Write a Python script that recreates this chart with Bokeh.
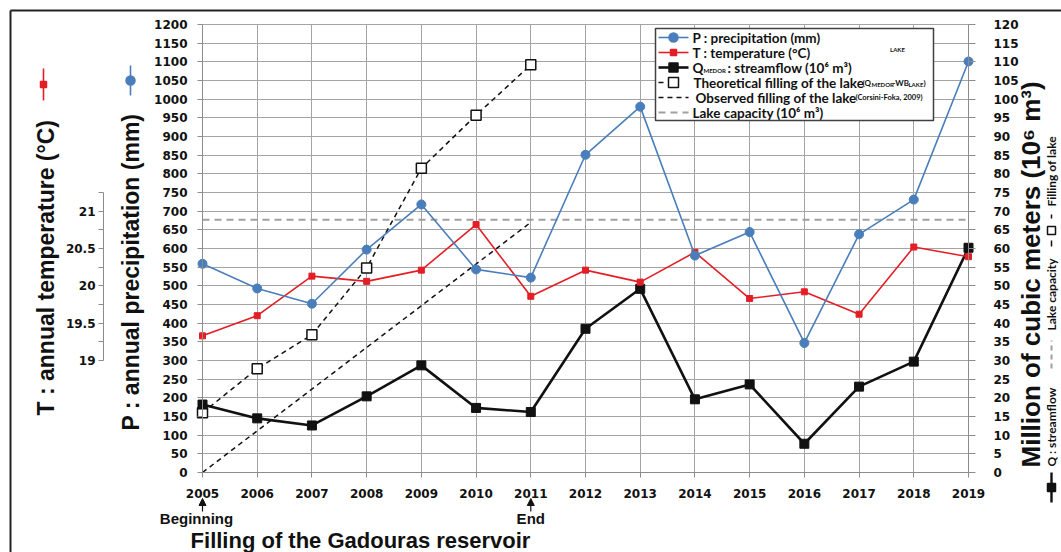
from math import pi

from bokeh.plotting import figure
from bokeh.models import Range1d, LinearAxis, FixedTicker, Grid, Label, Arrow, NormalHead
from bokeh.embed import file_html
from bokeh.resources import INLINE

# ---- data -------------------------------------------------------------
years = list(range(2005, 2020))
precipitation = [559, 493, 452, 597, 718, 544, 522, 851, 980, 581, 644, 347, 638, 731, 1101]   # mm
temperature = [19.33, 19.60, 20.13, 20.06, 20.21, 20.82, 19.86, 20.21, 20.05, 20.45,
               19.83, 19.92, 19.62, 20.52, 20.39]                                             # deg C
streamflow = [18.2, 14.5, 12.6, 20.4, 28.7, 17.3, 16.2, 38.5, 49.2, 19.6,
              23.6, 7.7, 23.0, 29.7, 60.2]                                                     # 10^6 m3
filling_years = [2005, 2006, 2007, 2008, 2009, 2010, 2011]
filling_theoretical = [16.0, 27.8, 36.9, 54.8, 81.5, 95.7, 109.2]                              # 10^6 m3
observed_years = [2005, 2011]
observed_filling = [0, 67]                                                                     # 10^6 m3
capacity_years = [2005, 2019]
lake_capacity = [67.7, 67.7]                                                                   # 10^6 m3

p_ticks = list(range(0, 1201, 50))
q_ticks = list(range(0, 121, 5))
t_ticks = [19, 19.5, 20, 20.5, 21]
t_minor = [19.25, 19.75, 20.25, 20.75, 21.25]

# ---- geometry ---------------------------------------------------------
W, H = 1061, 552
LEFT, RIGHT, TOP, BOTTOM = 202, 968, 24, 472      # pixel box of the axes
PX_PER_YEAR = (RIGHT - LEFT) / (years[-1] - years[0])
P_MAX = p_ticks[-1]
Q_PER_MM = q_ticks[-1] / P_MAX                     # right axis is 1/10 of left axis
T_AT_300, MM_PER_DEG = 19.0, 200.0                 # 19 degC sits on 300 mm, 1 degC = 200 mm


def to_x(px):
    return years[0] + (px - LEFT) / PX_PER_YEAR


def to_y(py):
    return (BOTTOM - py) * P_MAX / (BOTTOM - TOP)


def mm_to_t(v):
    return T_AT_300 + (v - 300) / MM_PER_DEG


BLUE = "#4A7EBB"
RED = "#E41E26"
BLACK = "#111111"
GRAY = "#A0A0A0"
GRID = "#A4A4A4"
AXIS = "#8C8C8C"

# the frame covers the whole canvas; axes sit at fixed data locations inside it
y_lo, y_hi = to_y(H), to_y(0)
p = figure(width=W, height=H, title=None,
           x_range=Range1d(to_x(0), to_x(W)), y_range=Range1d(y_lo, y_hi),
           x_axis_type=None, y_axis_type=None,
           output_backend="svg", toolbar_location=None)
p.min_border = 0
p.min_border_left = p.min_border_right = p.min_border_top = p.min_border_bottom = 0
p.outline_line_color = None
p.background_fill_color = "white"
p.border_fill_color = "white"

p.extra_y_ranges = {"T": Range1d(mm_to_t(y_lo), mm_to_t(y_hi)),
                    "Q": Range1d(y_lo * Q_PER_MM, y_hi * Q_PER_MM)}

# grid
p.add_layout(Grid(dimension=0, ticker=FixedTicker(ticks=years), bounds=(years[0], years[-1]),
                  cross_bounds=(0, P_MAX), grid_line_color=GRID, grid_line_width=1))
p.add_layout(Grid(dimension=1, ticker=FixedTicker(ticks=p_ticks), bounds=(0, P_MAX),
                  cross_bounds=(years[0], years[-1]), grid_line_color=GRID, grid_line_width=1))


def style_axis(ax, tick_out=5, standoff=10):
    ax.axis_line_color = AXIS
    ax.major_tick_line_color = AXIS
    ax.minor_tick_line_color = AXIS
    ax.major_tick_in = 0
    ax.minor_tick_in = 0
    ax.major_tick_out = tick_out
    ax.minor_tick_out = 0
    ax.major_label_standoff = standoff
    ax.major_label_text_font = "DejaVu Sans"
    ax.major_label_text_font_style = "bold"
    ax.major_label_text_font_size = "12px"
    ax.major_label_text_color = BLACK


xa = LinearAxis(ticker=FixedTicker(ticks=years), bounds=(years[0], years[-1]), fixed_location=0)
style_axis(xa, 5, 11)
p.add_layout(xa, "below")

ya = LinearAxis(ticker=FixedTicker(ticks=p_ticks), bounds=(0, P_MAX), fixed_location=years[0])
style_axis(ya, 5, 10)
p.add_layout(ya, "left")

ta = LinearAxis(y_range_name="T", ticker=FixedTicker(ticks=t_ticks, minor_ticks=t_minor),
                bounds=(t_ticks[0], t_minor[-1]), fixed_location=to_x(103),
                major_label_overrides={t: f"{t:g}" for t in t_ticks})
style_axis(ta, 5, 3)
ta.minor_tick_out = 5
p.add_layout(ta, "left")

qa = LinearAxis(y_range_name="Q", ticker=FixedTicker(ticks=q_ticks), bounds=(0, q_ticks[-1]),
                fixed_location=years[-1])
style_axis(qa, 7, 18)
p.add_layout(qa, "right")

# ---- series -----------------------------------------------------------
p.line(capacity_years, lake_capacity, y_range_name="Q", line_color=GRAY, line_width=2.2, line_dash="7 5")
p.line(observed_years, observed_filling, y_range_name="Q", line_color=BLACK, line_width=1.5, line_dash="5 4")
p.line(filling_years, filling_theoretical, y_range_name="Q", line_color=BLACK, line_width=1.5, line_dash="5 4")
p.scatter(filling_years, filling_theoretical, y_range_name="Q", marker="square", size=10,
          fill_color="white", line_color=BLACK, line_width=1.5)

p.line(years, streamflow, y_range_name="Q", line_color=BLACK, line_width=2.6)
p.scatter(years, streamflow, y_range_name="Q", marker="square", size=9, color=BLACK)

p.line(years, temperature, y_range_name="T", line_color=RED, line_width=1.6)
p.scatter(years, temperature, y_range_name="T", marker="square", size=6, color=RED)

p.line(years, precipitation, line_color=BLUE, line_width=1.6)
p.scatter(years, precipitation, marker="circle", size=9, color=BLUE)


# ---- helpers for keys and texts ---------------------------------------
def text(px, py, s, size, font="Lato", color=BLACK, align="left", baseline="middle", angle=0.0):
    p.add_layout(Label(x=to_x(px), y=to_y(py), text=s, text_font=font,
                       text_font_size=f"{size}px", text_font_style="bold",
                       text_color=color, text_align=align, text_baseline=baseline,
                       angle=angle))


def seg(x0, y0, x1, y1, width=2.0, color=BLACK, head=None):
    p.add_layout(Arrow(x_start=to_x(x0), y_start=to_y(y0), x_end=to_x(x1), y_end=to_y(y1),
                       line_color=color, line_width=width, end=head))


def key(x0, y0, x1, y1, color, width, dash="solid", marker=None, size=8, fill=None, level="annotation"):
    """Short sample line with an optional marker in its middle."""
    p.line([to_x(x0), to_x(x1)], [to_y(y0), to_y(y1)], line_color=color, line_width=width,
           line_dash=dash, level=level)
    if marker:
        p.scatter([to_x((x0 + x1) / 2)], [to_y((y0 + y1) / 2)], marker=marker, size=size,
                  fill_color=fill or color, line_color=color, line_width=1.5, level=level)


# ---- legend box ------------------------------------------------------
p.quad(left=to_x(655), right=to_x(933), top=to_y(28), bottom=to_y(120),
       fill_color="white", line_color="#404040", line_width=1.5, level="guide")

rows = [37, 52, 67, 82, 97, 112]
sx0, sx1 = 658, 688
key(sx0, rows[0], sx1, rows[0], BLUE, 1.6, marker="circle", size=9)
key(sx0, rows[1], sx1, rows[1], RED, 1.6, marker="square", size=6)
key(sx0, rows[2], sx1, rows[2], BLACK, 2.6, marker="square", size=9)
key(sx0, rows[3], sx1, rows[3], BLACK, 1.5, dash="5 10", marker="square", size=10, fill="white")
key(sx0, rows[4], sx1, rows[4], BLACK, 1.5, dash="5 4")
key(sx0, rows[5], sx1, rows[5], GRAY, 2.2, dash="7 5")

LS = 13.5
text(692, rows[0], "P : precipitation (mm)", LS)
text(692, rows[1], "T : temperature (°C)", LS)
text(897, 49, "LAKE", 6, align="center")
text(692, rows[2], "Q", LS)
text(703, rows[2] + 3, "MEDOR", 6)
text(727, rows[2], ":  streamflow (10⁶ m³)", LS)
text(693, rows[3], "Theoretical filling of the lake", LS)
text(862, rows[3], "(Q", 8)
text(871, rows[3] + 2, "MEDOR", 6)
text(892, rows[3], "-WB", 8)
text(908, rows[3] + 2, "LAKE", 6)
text(923, rows[3], ")", 8)
text(695, rows[4], "Observed filling of the lake", LS)
text(855, rows[4], "(Corsini-Foka, 2009)", 7.5)
text(692, rows[5], "Lake capacity  (10⁶ m³)", LS)

# ---- axis titles with their keys ---------------------------------------
text(130, 430, "P : annual precipitation (mm)", 23, font="Liberation Sans", angle=pi / 2)
key(130, 95, 130, 65, BLUE, 1.6, marker="circle", size=9)
text(45, 415, "T : annual temperature (°C)", 23, font="Liberation Sans", angle=pi / 2)
key(43, 100, 43, 68, RED, 1.6, marker="square", size=6)
text(1030, 467, "Million of cubic meters (10⁶ m³)", 26, font="Liberation Sans", angle=pi / 2)

# rotated key on the far right
key(1051, 502, 1051, 472, BLACK, 2.4, marker="square", size=8)
text(1051, 466, "Q : streamflow", 12, angle=pi / 2)
key(1051, 368, 1051, 340, GRAY, 2.0, dash="5 4")
text(1051, 330, "Lake capacity", 12, angle=pi / 2)
key(1051, 246, 1051, 214, BLACK, 1.5, dash="6 8", marker="square", size=8, fill="white")
text(1051, 206, "Filling of lake", 12, angle=pi / 2)

# ---- bottom annotations ----------------------------------------------
x_end = LEFT + (2011 - years[0]) * PX_PER_YEAR
seg(LEFT, 511, LEFT, 498, width=1.2, head=NormalHead(size=7, fill_color=BLACK, line_color=BLACK))
seg(x_end, 511, x_end, 498, width=1.2, head=NormalHead(size=7, fill_color=BLACK, line_color=BLACK))
text(196, 518, "Beginning", 15, font="Liberation Sans", align="center")
text(x_end, 518, "End", 15, font="Liberation Sans", align="center")
text(360, 540, "Filling of the Gadouras reservoir", 22, font="Liberation Sans", align="center")

# page frame lines
seg(10, 10, W, 10, width=2, color="#222222")
seg(10, 10, 10, H, width=2, color="#222222")

open("out.html", "w").write(file_html(p, INLINE))
